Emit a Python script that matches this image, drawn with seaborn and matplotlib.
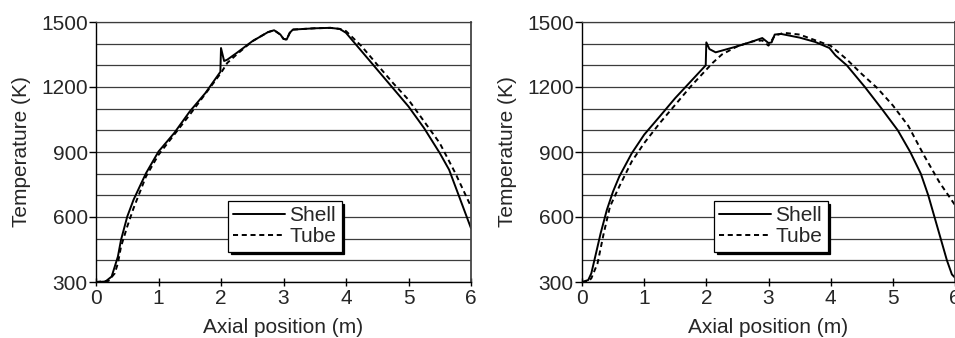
import numpy as np
import pandas as pd
import matplotlib
matplotlib.use("Agg")
import matplotlib.pyplot as plt
from matplotlib.ticker import MultipleLocator
import seaborn as sns

# ---- data ----
left_shell_x = [0, 0.15, 0.25, 0.3, 0.35, 0.4, 0.5, 0.6, 0.7, 0.8, 1.0, 1.25, 1.5, 1.75, 1.99, 2.0, 2.05,
                2.1, 2.25, 2.5, 2.75, 2.85, 2.95, 3.0, 3.05, 3.1, 3.15, 3.5, 3.75, 3.9, 4.0, 4.25, 4.5,
                4.75, 5.0, 5.25, 5.5, 5.65, 5.75, 6.0]
left_shell_T = [300, 302, 325, 371, 417, 494, 602, 679, 741, 802, 902, 987, 1087, 1172, 1270, 1380, 1320,
                1326, 1357, 1411, 1453, 1462, 1442, 1422, 1419, 1450, 1465, 1471, 1473, 1468, 1450, 1365, 1280,
                1195, 1110, 1010, 895, 818, 741, 548]

left_tube_x = [0, 0.2, 0.3, 0.35, 0.4, 0.5, 0.6, 0.8, 1.0, 1.5, 2.0, 2.1, 2.25, 2.5, 2.75, 2.85, 2.95,
               3.0, 3.05, 3.1, 3.15, 3.5, 3.75, 3.9, 4.0, 4.25, 4.5, 4.75, 5.0, 5.25, 5.5, 5.75, 6.0]
left_tube_T = [300, 305, 340, 386, 463, 556, 640, 787, 887, 1072, 1265, 1311, 1350, 1411, 1453, 1462, 1442,
               1422, 1419, 1450, 1465, 1471, 1473, 1468, 1458, 1388, 1303, 1219, 1141, 1041, 941, 802, 648]

right_shell_x = [0, 0.1, 0.15, 0.25, 0.3, 0.4, 0.5, 0.6, 0.8, 1.0, 1.25, 1.5, 1.75, 1.99, 2.0, 2.05, 2.15,
                 2.3, 2.5, 2.75, 2.9, 3.0, 3.05, 3.1, 3.2, 3.5, 3.75, 3.98, 4.08, 4.26, 4.55, 4.82, 5.08,
                 5.28, 5.45, 5.57, 5.67, 5.77, 5.87, 5.95, 6.0]
right_shell_T = [300, 309, 340, 463, 525, 633, 718, 787, 894, 980, 1064, 1149, 1226, 1300, 1406, 1375, 1360,
                 1372, 1388, 1411, 1426, 1403, 1406, 1442, 1445, 1428, 1408, 1380, 1345, 1300, 1200, 1100, 1000,
                 900, 800, 700, 600, 500, 400, 335, 320]

right_tube_x = [0, 0.1, 0.15, 0.25, 0.35, 0.45, 0.6, 0.8, 1.0, 1.25, 1.5, 1.75, 2.0, 2.1, 2.25, 2.5, 2.75,
                2.9, 3.0, 3.1, 3.25, 3.5, 4.0, 4.25, 4.5, 4.75, 5.0, 5.25, 5.5, 5.75, 6.0]
right_tube_T = [300, 302, 317, 386, 525, 648, 741, 856, 941, 1033, 1118, 1203, 1280, 1311, 1350, 1388, 1411,
                1415, 1391, 1437, 1450, 1442, 1390, 1330, 1260, 1195, 1115, 1020, 885, 760, 655]

series_names = ["Shell", "Tube"]
x_ticks = [0, 1, 2, 3, 4, 5, 6]
y_ticks = [300, 600, 900, 1200, 1500]
x_label = "Axial position (m)"
y_label = "Temperature (K)"

def frame(xs, ts, name):
    return pd.DataFrame({"x": xs, "T": ts, "series": name})

left_df = pd.concat([frame(left_shell_x, left_shell_T, "Shell"),
                     frame(left_tube_x, left_tube_T, "Tube")], ignore_index=True)
right_df = pd.concat([frame(right_shell_x, right_shell_T, "Shell"),
                      frame(right_tube_x, right_tube_T, "Tube")], ignore_index=True)

# ---- style ----
sns.set_style("white")
plt.rcParams["font.family"] = ["Liberation Sans", "DejaVu Sans"]
FS = 15

fig = plt.figure(figsize=(9.55, 3.38), dpi=100)
ax_l = fig.add_axes([96 / 955, 1 - 282 / 338, 375 / 955, 260 / 338])
ax_r = fig.add_axes([582 / 955, 1 - 282 / 338, 373 / 955, 260 / 338])

grid_color = "#3c3c3c"
for ax, df, leg_x in [(ax_l, left_df, 0.352), (ax_r, right_df, 0.354)]:
    sns.lineplot(data=df, x="x", y="T", style="series", style_order=series_names,
                 dashes={"Shell": "", "Tube": (2.6, 1.9)}, color="black", linewidth=1.4,
                 estimator=None, sort=True, ax=ax, legend=True)
    ax.set_xlim(0, 6)
    ax.set_ylim(300, 1500)
    ax.set_xticks(x_ticks)
    ax.set_yticks(y_ticks)
    ax.yaxis.set_minor_locator(MultipleLocator(100))
    ax.grid(False)
    ax.grid(axis="y", which="both", color=grid_color, linewidth=0.9)
    ax.set_axisbelow(True)
    ax.tick_params(axis="y", which="major", direction="out", length=5, width=1, color="black",
                   labelsize=FS, pad=1, left=True)
    ax.tick_params(axis="y", which="minor", length=0)
    ax.tick_params(axis="x", which="major", direction="inout", length=6, width=1, color="black",
                   labelsize=FS, pad=2, bottom=True)
    for s in ["left", "bottom"]:
        ax.spines[s].set_visible(True)
        ax.spines[s].set_color("black")
        ax.spines[s].set_linewidth(1.0)
    ax.spines["right"].set_visible(True)
    ax.spines["right"].set_color("#444444")
    ax.spines["right"].set_linewidth(1.3)
    ax.spines["top"].set_visible(True)
    ax.spines["top"].set_color(grid_color)
    ax.spines["top"].set_linewidth(0.9)
    ax.set_xlabel(x_label, fontsize=FS, labelpad=7)
    ax.set_ylabel(y_label, fontsize=FS, labelpad=7)
    handles, labels = ax.get_legend_handles_labels()
    leg = ax.legend(handles, labels, loc="upper left", bbox_to_anchor=(leg_x, 0.3115),
                    borderaxespad=0, fontsize=FS, frameon=True, fancybox=False,
                    shadow={"color": "black", "alpha": 1.0},
                    handlelength=2.5, handletextpad=0.2, labelspacing=0.1, borderpad=0.25)
    leg.get_frame().set_edgecolor("black")
    leg.get_frame().set_linewidth(0.9)
    leg.get_frame().set_facecolor("white")
    for ln in leg.get_lines():
        ln.set_linewidth(1.4)
        ln.set_color("black")

fig.savefig("out.png", dpi=100)
